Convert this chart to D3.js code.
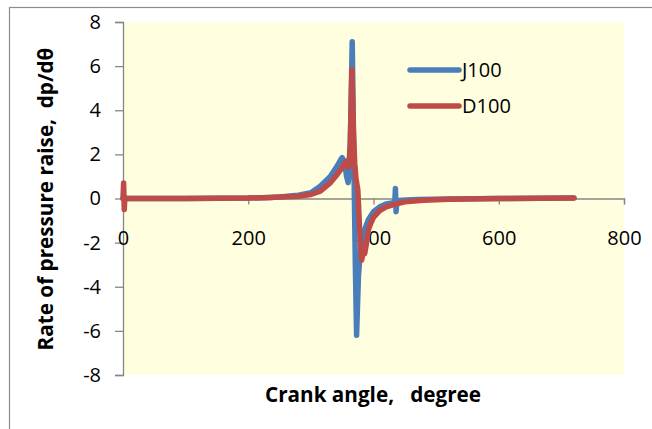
<!DOCTYPE html>
<html>
<head>
<meta charset="utf-8">
<script src="https://cdn.jsdelivr.net/npm/d3@7"></script>
<style>
  html, body { margin: 0; padding: 0; background: #ffffff; }
  svg { display: block; }
  text { font-family: "Open Sans", "Noto Sans", sans-serif; }
</style>
</head>
<body>
<svg id="chart" width="652" height="429"></svg>
<script>
// ---- data ----
const seriesNames = ["J100", "D100"];
const xTicks = [0, 200, 400, 600, 800];
const yTicks = [-8, -6, -4, -2, 0, 2, 4, 6, 8];

const j100Angle = [0, 100, 200, 235, 250, 280, 300, 315, 331, 342, 348, 350, 354, 357, 359.5, 362, 364, 366, 368.5, 371, 373, 376, 379, 382, 386, 392, 400, 411, 420, 430, 434, 435, 436, 437.5, 445, 470, 520, 600, 720];
const j100Value = [0, 0, 0.02, 0.05, 0.07, 0.15, 0.26, 0.56, 1.0, 1.47, 1.77, 1.85, 1.6, 1.0, 0.72, 1.3, 4.0, 7.1, 2.0, -3.0, -6.2, -3.5, -2.4, -2.0, -1.4, -0.95, -0.6, -0.36, -0.25, -0.2, -0.18, 0.45, -0.6, -0.1, -0.08, -0.05, -0.02, 0, 0.02];

const d100Angle = [0, 1, 2, 3, 5, 100, 200, 235, 250, 280, 300, 315, 331, 342, 350, 355, 357.5, 360.5, 363, 365.5, 368, 370, 372, 375, 378, 381, 384, 386, 389, 392, 396, 400, 410, 420, 435, 450, 480, 520, 600, 720];
const d100Value = [0, 0.7, -0.5, 0.05, 0, 0, 0.02, 0.05, 0.07, 0.1, 0.18, 0.33, 0.71, 1.09, 1.4, 1.63, 1.7, 1.4, 2.5, 5.85, 3.0, 1.6, 0.9, 0.4, -1.5, -2.8, -2.4, -2.5, -2.0, -1.4, -1.1, -0.85, -0.55, -0.38, -0.25, -0.15, -0.08, -0.03, 0, 0.02];

const colors = ["#4A7EBB", "#BE4B48"];

// ---- layout ----
const svg = d3.select("#chart");
const plot = { left: 123, right: 624, top: 22, bottom: 375 };

const x = d3.scaleLinear().domain([0, 800]).range([plot.left, plot.right]);
const y = d3.scaleLinear().domain([-8, 8]).range([plot.bottom, plot.top]);

// outer chart border
svg.append("rect")
  .attr("x", 9.5).attr("y", 7.5)
  .attr("width", 700).attr("height", 500)
  .attr("fill", "#ffffff")
  .attr("stroke", "#8c8c8c").attr("stroke-width", 1.2);

// plot area
svg.append("rect")
  .attr("x", plot.left).attr("y", plot.top)
  .attr("width", plot.right - plot.left).attr("height", plot.bottom - plot.top)
  .attr("fill", "#FFFFE0");

// y axis
const yAxis = d3.axisLeft(y).tickValues(yTicks).tickSize(8).tickPadding(14)
  .tickFormat(d => d3.format("d")(d).replace("−", "-"));
const gy = svg.append("g").attr("transform", `translate(${plot.left},0)`).call(yAxis);
gy.select(".domain").attr("stroke", "#868686").attr("stroke-width", 1.3);
gy.selectAll(".tick line").attr("stroke", "#868686").attr("stroke-width", 1.3);
gy.selectAll(".tick text").attr("fill", "#000").attr("font-size", 20)
  .attr("font-family", "'Open Sans', sans-serif");

// x axis at y = 0
const xAxis = d3.axisBottom(x).tickValues(xTicks).tickSize(6).tickPadding(26)
  .tickFormat(d3.format("d"));
const gx = svg.append("g").attr("transform", `translate(0,${y(0)})`).call(xAxis);
gx.select(".domain").attr("stroke", "#868686").attr("stroke-width", 1.3);
gx.selectAll(".tick line").attr("stroke", "#868686").attr("stroke-width", 1.3);
gx.selectAll(".tick text").attr("fill", "#000").attr("font-size", 20)
  .attr("font-family", "'Open Sans', sans-serif");

// series
const line = d3.line().x(d => x(d[0])).y(d => y(d[1]));
const data = [
  d3.zip(j100Angle, j100Value),
  d3.zip(d100Angle, d100Value)
];
data.forEach((pts, i) => {
  svg.append("path")
    .datum(pts)
    .attr("fill", "none")
    .attr("stroke", colors[i])
    .attr("stroke-width", 5.5)
    .attr("stroke-linejoin", "round")
    .attr("stroke-linecap", "round")
    .attr("d", line);
});

// legend
const legend = svg.append("g");
seriesNames.forEach((name, i) => {
  const ly = 70 + i * 36;
  legend.append("line")
    .attr("x1", 410).attr("x2", 459).attr("y1", ly).attr("y2", ly)
    .attr("stroke", colors[i]).attr("stroke-width", 5.5).attr("stroke-linecap", "round");
  legend.append("text")
    .attr("x", 462).attr("y", ly).attr("dy", "0.36em")
    .attr("font-size", 20).attr("fill", "#000")
    .text(name);
});

// axis titles
svg.append("text")
  .attr("x", 373).attr("y", 395).attr("dy", "0.36em")
  .attr("text-anchor", "middle")
  .attr("font-size", 20.7).attr("font-weight", "bold").attr("fill", "#000")
  .style("white-space", "pre")
  .text("Crank angle,   degree");

svg.append("text")
  .attr("transform", "translate(46,199) rotate(-90)")
  .attr("text-anchor", "middle").attr("dy", "0.36em")
  .attr("font-size", 20.7).attr("font-weight", "bold").attr("fill", "#000")
  .style("white-space", "pre")
  .text("Rate of pressure raise,  dp/dθ");
</script>
</body>
</html>
